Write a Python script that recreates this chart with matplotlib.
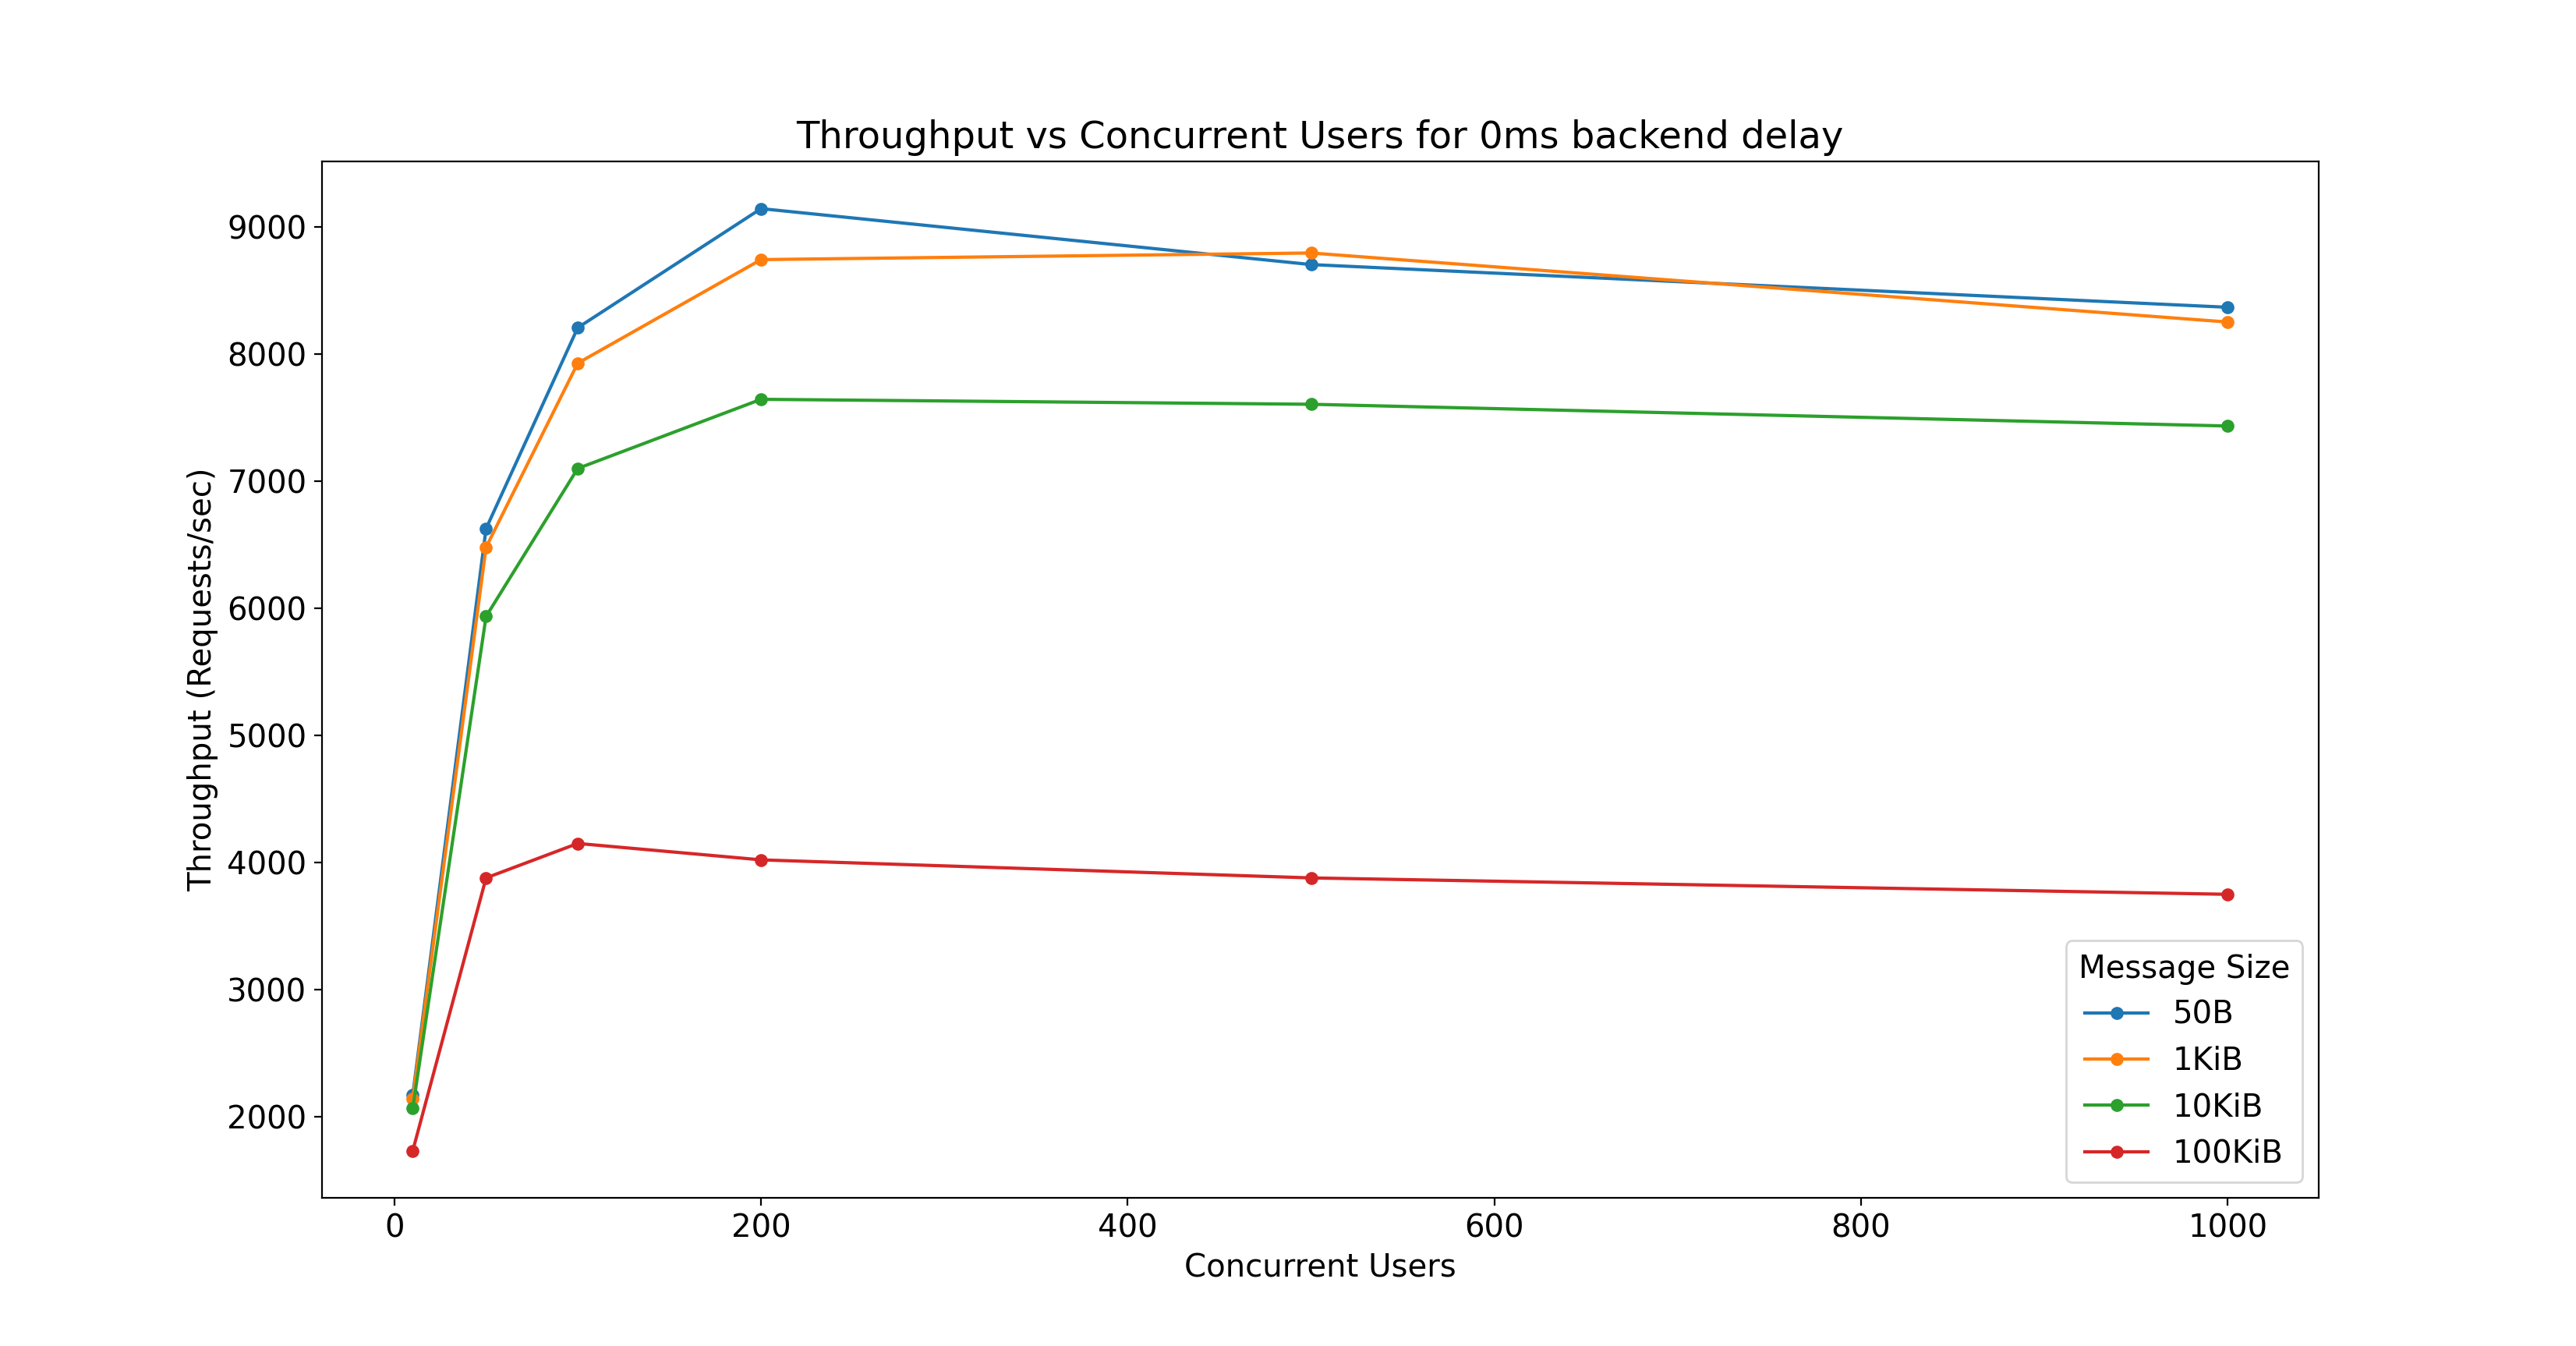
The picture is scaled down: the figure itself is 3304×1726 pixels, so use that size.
import matplotlib
matplotlib.use("Agg")
import matplotlib.pyplot as plt

users = [10, 50, 100, 200, 500, 1000]
labels = ["50B", "1KiB", "10KiB", "100KiB"]
tp_50b = [2168, 6625, 8205, 9142, 8702, 8366]
tp_1kib = [2139, 6478, 7926, 8741, 8793, 8250]
tp_10kib = [2064, 5934, 7098, 7642, 7603, 7432]
tp_100kib = [1730, 3877, 4148, 4019, 3877, 3748]
series = [tp_50b, tp_1kib, tp_10kib, tp_100kib]

plt.rcParams['font.size'] = 14.5
fig, ax = plt.subplots(figsize=(16.52, 8.63), dpi=200)
for lab, vals in zip(labels, series):
    ax.plot(users, vals, marker='o', markersize=5, label=lab)
ax.set_title("Throughput vs Concurrent Users for 0ms backend delay", fontsize=17.3)
ax.set_xlabel("Concurrent Users")
ax.set_ylabel("Throughput (Requests/sec)")
ax.legend(title="Message Size", loc="lower right", labelspacing=0.48)
fig.savefig("out.png", dpi=200)
